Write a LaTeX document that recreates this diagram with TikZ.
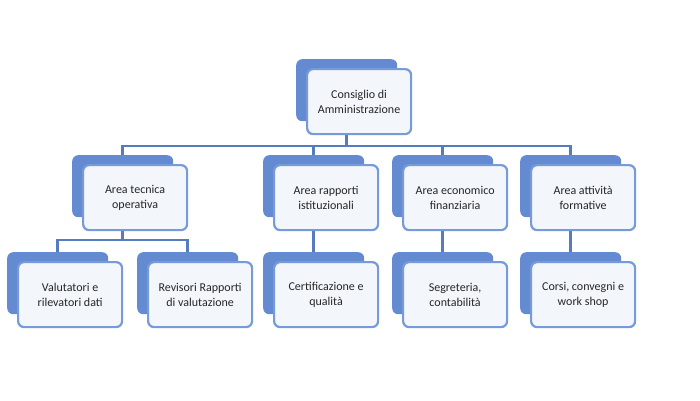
\documentclass[tikz,border=0pt]{standalone}
\usepackage{fontspec}
\setmainfont{Carlito}
\definecolor{backblue}{RGB}{100,139,210}
\definecolor{edgeblue}{RGB}{118,154,218}
\definecolor{paleblue}{RGB}{243,246,251}
\definecolor{linkblue}{RGB}{86,124,192}
\tikzset{
  backbox/.style={fill=backblue, rounded corners=6pt, minimum width=101pt, minimum height=62pt, inner sep=0pt, anchor=north west},
  frontbox/.style={draw=edgeblue, line width=2.2pt, fill=paleblue, rounded corners=6pt, minimum width=104pt, minimum height=65pt, align=center, anchor=north west, font=\fontsize{12}{15}\selectfont, text=black!85},
  link/.style={draw=linkblue, line width=2.5pt}
}
\begin{document}
\begin{tikzpicture}[x=1pt,y=-1pt]
  \useasboundingbox (0,0) rectangle (700,400);

  % box pairs: blue card behind, pale card in front
  \foreach \n/\x/\y/\t in {cda/296/59/{Consiglio di\\Amministrazione},
      tec/72/155/{Area tecnica\\operativa}, rap/263/155/{Area rapporti\\istituzionali},
      eco/392/155/{Area economico\\finanziaria}, att/520/155/{Area attività\\formative},
      val/7/252/{Valutatori e\\rilevatori dati}, rev/137/252/{Revisori Rapporti\\di valutazione},
      cert/263/252/{Certificazione e\\qualità}, seg/392/252/{Segreteria,\\contabilità},
      cor/520/252/{Corsi, convegni e\\work shop}}
  {
    \node[backbox] (\n-b) at (\x,\y) {};
    \node[frontbox] (\n) at ([shift={(10pt,-9pt)}]\n-b.north west) {\t};
  }

  % top level
  \draw[link] (cda.south -| cda-b.north) -- ++(0,11) coordinate (bus);
  \foreach \c in {tec,rap,eco,att}
    \draw[link] (bus) -| (\c-b.north);

  % second level
  \draw[link] (tec.south -| tec-b.north) -- ++(0,9) coordinate (fork);
  \foreach \c in {val,rev}
    \draw[link] (fork) -| (\c-b.north);
  \foreach \p/\c in {rap/cert,eco/seg,att/cor}
    \draw[link] (\p.south -| \p-b.north) -- (\c-b.north);
\end{tikzpicture}
\end{document}
